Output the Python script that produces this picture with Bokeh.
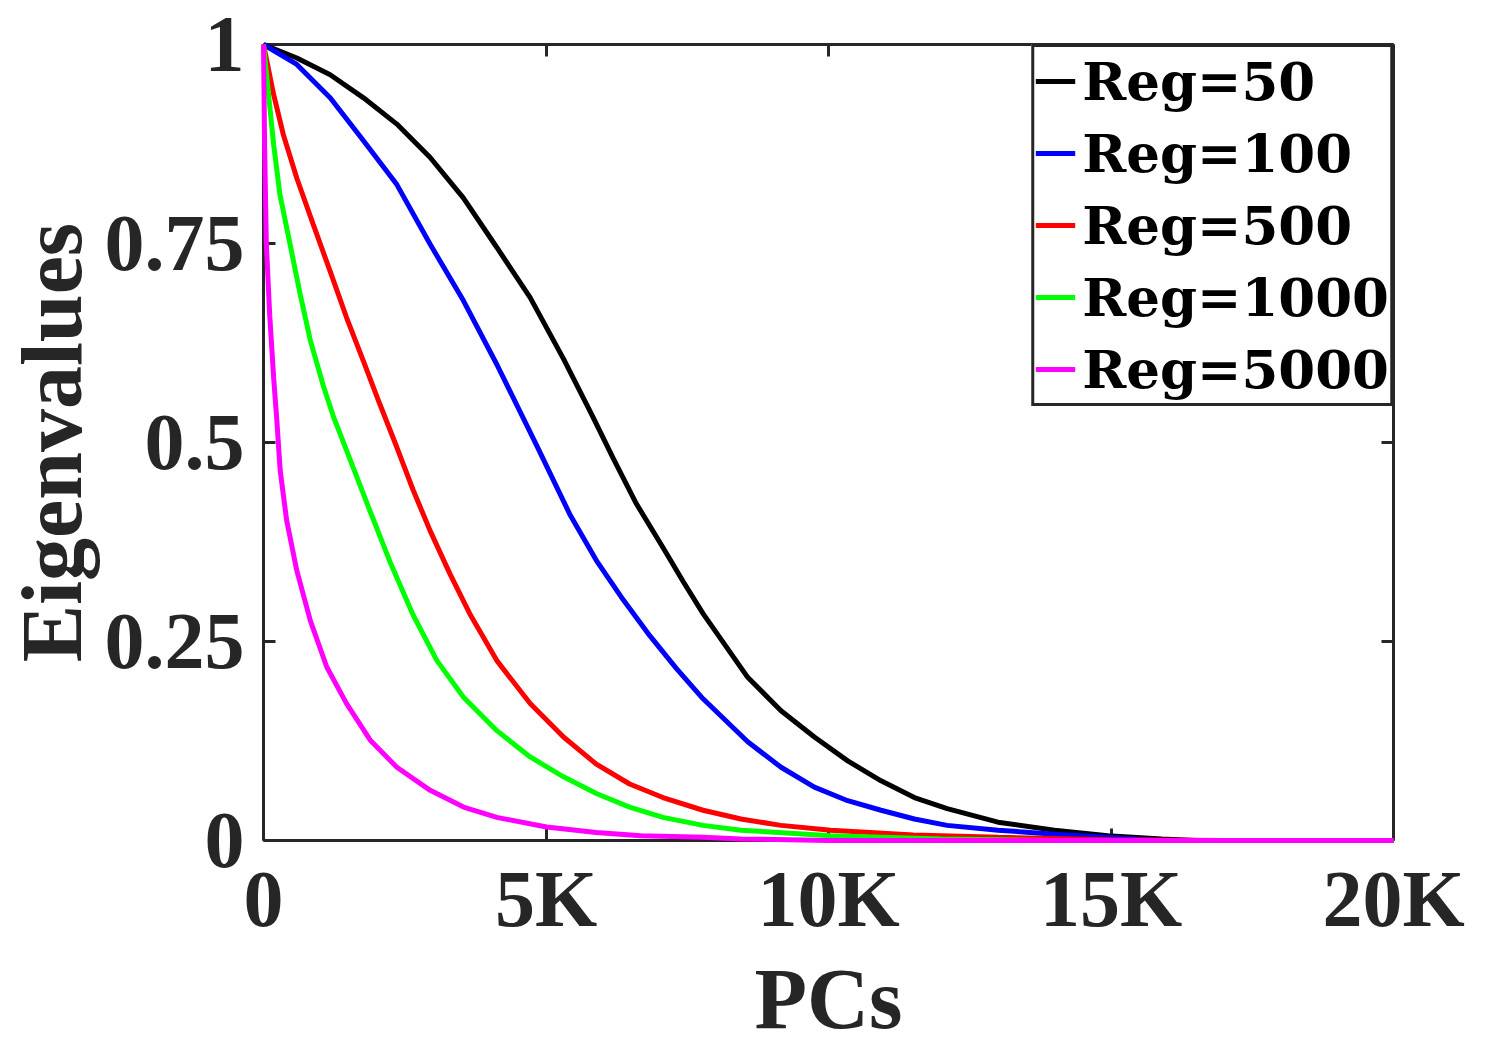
from bokeh.plotting import figure
from bokeh.models import LinearAxis, FixedTicker, Range1d, Legend, LegendItem
from bokeh.embed import file_html
from bokeh.resources import INLINE

# ---- data ----
x_tick_vals = [0, 5000, 10000, 15000, 20000]
x_tick_labels = ["0", "5K", "10K", "15K", "20K"]
y_tick_vals = [0, 0.25, 0.5, 0.75, 1.0]
y_tick_labels = ["0", "0.25", "0.5", "0.75", "1"]
x_title = "PCs"
y_title = "Eigenvalues"

series_names = ["Reg=50", "Reg=100", "Reg=500", "Reg=1000", "Reg=5000"]
series_colors = ["#000000", "#0000ff", "#ff0000", "#00ff00", "#ff00ff"]

reg50_x = [0, 590, 1180, 1770, 2360, 2950, 3540, 4130, 4720, 5310, 5810, 6190, 6600, 7070, 7430,
           7780, 8570, 9160, 9750, 10340, 10930, 11520, 12100, 13000, 14000, 14940, 15900, 16500, 20000]
reg50_y = [1.0, 0.983, 0.962, 0.933, 0.900, 0.858, 0.807, 0.745, 0.682, 0.605, 0.535, 0.480, 0.423, 0.368, 0.325,
           0.285, 0.205, 0.163, 0.130, 0.100, 0.075, 0.054, 0.040, 0.023, 0.013, 0.006, 0.002, 0.0, 0.0]

reg100_x = [0, 590, 1180, 1770, 2360, 2950, 3540, 4130, 4830, 5420, 5890, 6370, 6840, 7310, 7780,
            8570, 9160, 9750, 10340, 10930, 11520, 12100, 13000, 14000, 14940, 15900, 20000]
reg100_y = [1.0, 0.975, 0.933, 0.879, 0.824, 0.749, 0.678, 0.598, 0.497, 0.410, 0.352, 0.302, 0.257, 0.216, 0.178,
            0.124, 0.092, 0.067, 0.050, 0.038, 0.027, 0.019, 0.013, 0.008, 0.004, 0.0, 0.0]

reg500_x = [0, 180, 350, 590, 880, 1180, 1470, 1770, 2060, 2360, 2650, 2950, 3300, 3650, 4130, 4720,
            5310, 5890, 6480, 7070, 7780, 8450, 9160, 10040, 11500, 13000, 15000, 17000, 20000]
reg500_y = [1.0, 0.937, 0.887, 0.832, 0.774, 0.715, 0.657, 0.602, 0.548, 0.494, 0.440, 0.389, 0.335, 0.285, 0.226, 0.172,
            0.130, 0.096, 0.071, 0.054, 0.038, 0.027, 0.019, 0.013, 0.007, 0.004, 0.001, 0.0, 0.0]

reg1000_x = [0, 60, 180, 290, 470, 650, 830, 1060, 1240, 1470, 1890, 2240, 2650, 3070, 3540,
             4130, 4720, 5310, 5890, 6480, 7070, 7780, 8450, 10040, 12000, 14000, 20000]
reg1000_y = [1.0, 0.958, 0.874, 0.812, 0.749, 0.686, 0.628, 0.571, 0.532, 0.490, 0.413, 0.350, 0.283, 0.226, 0.180,
             0.138, 0.105, 0.080, 0.059, 0.042, 0.029, 0.019, 0.013, 0.006, 0.002, 0.0, 0.0]

reg5000_x = [0, 20, 50, 110, 180, 236, 295, 410, 590, 830, 1120, 1470, 1890, 2360, 2950, 3540,
             4130, 5010, 5890, 6680, 7780, 8450, 10000, 20000]
reg5000_y = [1.0, 0.870, 0.750, 0.660, 0.581, 0.528, 0.465, 0.402, 0.339, 0.276, 0.218, 0.172, 0.126, 0.092, 0.063, 0.042,
             0.029, 0.017, 0.010, 0.006, 0.004, 0.002, 0.0, 0.0]

series_x = [reg50_x, reg100_x, reg500_x, reg1000_x, reg5000_x]
series_y = [reg50_y, reg100_y, reg500_y, reg1000_y, reg5000_y]

# ---- figure ----
AX = "#262626"
TICK_FONT = "Liberation Serif"

p = figure(width=1496, height=1050, output_backend="svg", toolbar_location=None,
           x_range=Range1d(0, 20000), y_range=Range1d(0, 1),
           min_border_left=262, min_border_right=103, min_border_top=44, min_border_bottom=210)
p.background_fill_color = "white"
p.border_fill_color = "white"
p.outline_line_color = None
p.grid.visible = False

for ax in p.xaxis:
    ax.ticker = FixedTicker(ticks=x_tick_vals)
    ax.major_label_overrides = {v: l for v, l in zip(x_tick_vals, x_tick_labels)}
    ax.axis_label = x_title
    ax.major_label_standoff = 14
    ax.axis_label_standoff = 5
    ax.major_label_text_line_height = 1.0
    ax.axis_label_text_line_height = 0.9
for ax in p.yaxis:
    ax.ticker = FixedTicker(ticks=y_tick_vals)
    ax.major_label_overrides = {v: l for v, l in zip(y_tick_vals, y_tick_labels)}
    ax.axis_label = y_title
    ax.major_label_standoff = 19
    ax.axis_label_standoff = 2

for ax in list(p.xaxis) + list(p.yaxis):
    ax.axis_line_color = AX
    ax.axis_line_width = 3
    ax.major_tick_line_color = AX
    ax.major_tick_line_width = 3
    ax.major_tick_in = 12
    ax.major_tick_out = 0
    ax.minor_tick_line_color = None
    ax.major_label_text_font = TICK_FONT
    ax.major_label_text_font_style = "bold"
    ax.major_label_text_font_size = "80px"
    ax.major_label_text_color = AX
    ax.axis_label_text_font = TICK_FONT
    ax.axis_label_text_font_style = "bold"
    ax.axis_label_text_font_size = "86px"
    ax.axis_label_text_color = AX

# box axes (top and right) with inward ticks only
top_ax = LinearAxis(ticker=FixedTicker(ticks=x_tick_vals))
top_ax.major_label_overrides = {v: "" for v in x_tick_vals}
right_ax = LinearAxis(ticker=FixedTicker(ticks=y_tick_vals))
right_ax.major_label_overrides = {v: "" for v in y_tick_vals}
for ax in (top_ax, right_ax):
    ax.axis_line_color = AX
    ax.axis_line_width = 3
    ax.major_tick_line_color = AX
    ax.major_tick_line_width = 3
    ax.major_tick_in = 12
    ax.major_tick_out = 0
    ax.minor_tick_line_color = None
    ax.major_label_text_font_size = "2px"
    ax.major_label_standoff = 0
p.add_layout(top_ax, "above")
p.add_layout(right_ax, "right")

items = []
for name, col, xs, ys in zip(series_names, series_colors, series_x, series_y):
    r = p.line(xs, ys, line_color=col, line_width=5, level="overlay")
    items.append(LegendItem(label=name, renderers=[r]))

legend = Legend(items=items, location="top_right")
legend.margin = 0
legend.padding = 1
legend.spacing = 6
legend.glyph_width = 40
legend.glyph_height = 66
legend.label_height = 66
legend.label_standoff = 7
legend.label_text_font = "DejaVu Serif"
legend.label_text_font_style = "bold"
legend.label_text_font_size = "53px"
legend.label_text_color = "black"
legend.border_line_color = AX
legend.border_line_width = 3
legend.border_line_alpha = 1.0
legend.background_fill_color = "white"
legend.background_fill_alpha = 1.0
p.add_layout(legend, "center")

open("out.html", "w").write(file_html(p, INLINE))
